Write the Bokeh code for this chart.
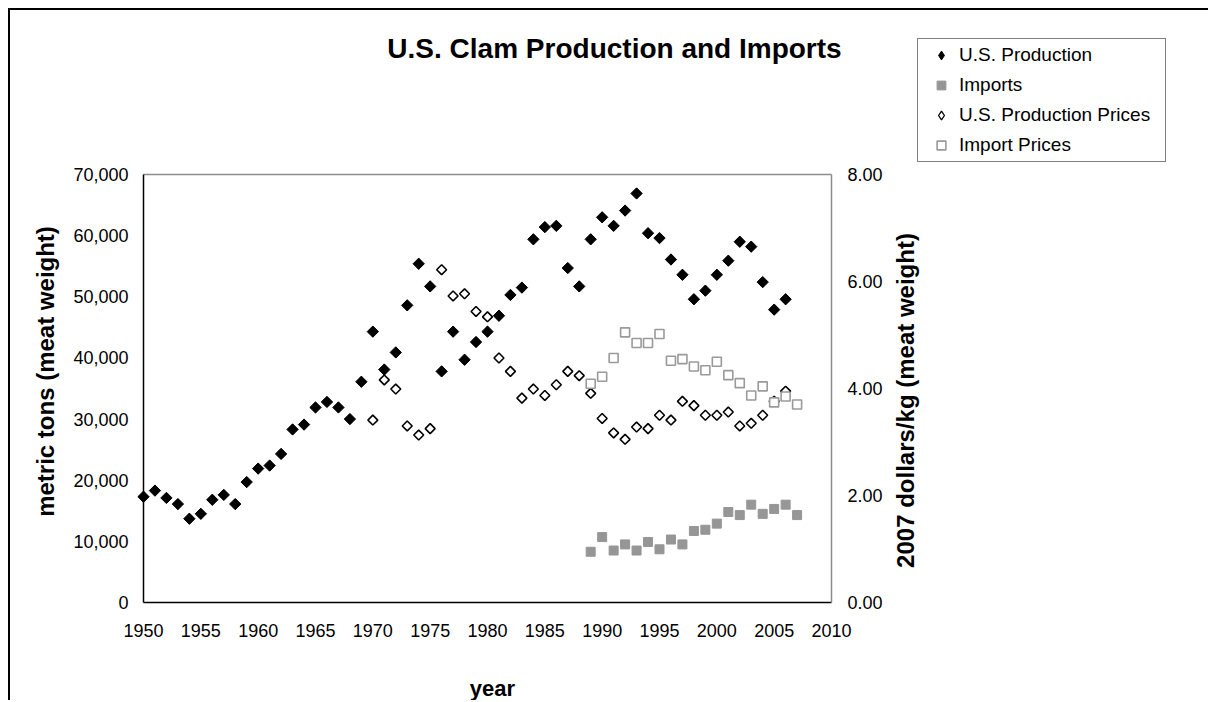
import math
from bokeh.plotting import figure
from bokeh.models import (Range1d, LinearAxis, FixedTicker, NumeralTickFormatter,
                          Label, Legend, LegendItem)
from bokeh.embed import file_html
from bokeh.resources import INLINE

# ---------------- data ----------------
prod_years = list(range(1950, 2007))
us_production = [17300, 18300, 17100, 16100, 13700, 14500, 16800, 17600, 16100, 19700,
                 21900, 22400, 24300, 28300, 29100, 31900, 32800, 31900, 30000, 36100,
                 44300, 38100, 40900, 48600, 55400, 51700, 37800, 44300, 39700, 42600,
                 44300, 46900, 50300, 51500, 59400, 61400, 61600, 54700, 51700, 59400,
                 63000, 61600, 64100, 66900, 60400, 59600, 56100, 53600, 49600, 51000,
                 53600, 55900, 59000, 58200, 52400, 47900, 49600]

import_years = list(range(1989, 2008))
imports = [8300, 10700, 8500, 9500, 8500, 9900, 8700, 10300, 9500, 11700,
           11900, 12900, 14800, 14300, 16000, 14500, 15300, 16000, 14300]

prodprice_years = list(range(1970, 2007))
us_prod_prices = [3.41, 4.16, 3.99, 3.30, 3.13, 3.25, 6.22, 5.73, 5.77, 5.44,
                  5.34, 4.57, 4.32, 3.82, 3.99, 3.87, 4.07, 4.32, 4.24, 3.91,
                  3.44, 3.17, 3.05, 3.28, 3.25, 3.50, 3.41, 3.76, 3.68, 3.50,
                  3.50, 3.56, 3.30, 3.35, 3.50, 3.76, 3.95]

importprice_years = list(range(1989, 2008))
import_prices = [4.09, 4.22, 4.57, 5.05, 4.85, 4.85, 5.02, 4.52, 4.55, 4.41,
                 4.34, 4.50, 4.25, 4.10, 3.87, 4.04, 3.74, 3.85, 3.70]

series_names = ["U.S. Production", "Imports", "U.S. Production Prices", "Import Prices"]

x_ticks = list(range(1950, 2011, 5))
left_ticks = list(range(0, 70001, 10000))
right_ticks = [0, 2, 4, 6, 8]

FONT = "Liberation Sans"

# ---------------- layout geometry (page pixels) ----------------
W, H = 1200, 692           # canvas size
OX, OY = 10, 10            # canvas origin on the page (margin + border)
PX_L, PX_R = 143, 831      # plot area left/right
PY_T, PY_B = 174, 602      # plot area top/bottom
X0, X1 = 1950, 2010
Y0, Y1 = 0, 70000
P0, P1 = 0, 8

def span(v0, v1, a, b, lo, hi):
    k = (v1 - v0) / (b - a)
    return v0 + (lo - a) * k, v0 + (hi - a) * k

xs, xe = span(X0, X1, PX_L, PX_R, OX, OX + W)
ys, ye = span(Y0, Y1, PY_B, PY_T, OY + H, OY)
ps, pe = span(P0, P1, PY_B, PY_T, OY + H, OY)

def sx(px):
    return px - OX

def sy(py):
    return OY + H - py

# ---------------- figure ----------------
p = figure(width=W, height=H,
           x_range=Range1d(xs, xe), y_range=Range1d(ys, ye),
           x_axis_location=None, y_axis_location=None,
           output_backend="svg", toolbar_location=None,
           min_border=0, min_border_left=0, min_border_right=0,
           min_border_top=0, min_border_bottom=0)
p.styles = {"margin-left": "8px", "margin-top": "8px",
            "border-top": "2px solid #000000", "border-left": "2px solid #000000"}
p.xgrid.visible = False
p.ygrid.visible = False
p.outline_line_color = None
p.background_fill_color = "white"
p.border_fill_color = "white"
p.extra_y_ranges = {"price": Range1d(ps, pe)}

bottom = LinearAxis(fixed_location=Y0, bounds=(X0, X1), ticker=FixedTicker(ticks=x_ticks))
left = LinearAxis(fixed_location=X0, bounds=(Y0, Y1), ticker=FixedTicker(ticks=left_ticks),
                  formatter=NumeralTickFormatter(format="0,0"))
right = LinearAxis(y_range_name="price", fixed_location=X1, bounds=(P0, P1),
                   ticker=FixedTicker(ticks=right_ticks),
                   formatter=NumeralTickFormatter(format="0.00"))
top = LinearAxis(fixed_location=Y1, bounds=(X0, X1), ticker=FixedTicker(ticks=[]),
                 major_label_text_alpha=0)
p.add_layout(bottom, "below")
p.add_layout(left, "left")
p.add_layout(right, "right")
p.add_layout(top, "above")

for ax in (bottom, left, right, top):
    ax.major_tick_out = 0
    ax.major_tick_in = 0
    ax.minor_tick_out = 0
    ax.minor_tick_in = 0
    ax.major_label_text_font = FONT
    ax.major_label_text_font_size = "18px"
    ax.major_label_text_color = "black"
    ax.axis_line_color = "black"
    ax.axis_line_width = 1.5

right.axis_line_color = "#8c8c8c"
top.axis_line_color = "#8c8c8c"
bottom.major_label_standoff = 21
left.major_label_standoff = 15
right.major_label_standoff = 16

# ---------------- glyphs ----------------
# legend keys for the diamond series: drawn under the visible rotated squares
# (the legend draws markers unrotated, so a true diamond marker is used there)
k1 = p.scatter(prod_years, us_production, marker="diamond", size=10,
               fill_color="black", line_color="black", line_width=1)
r1 = p.scatter(prod_years, us_production, marker="square", angle=math.pi / 4,
               size=8, fill_color="black", line_color="black", line_width=1)
r2 = p.scatter(import_years, imports, marker="square", size=9,
               fill_color="#969696", line_color="#969696", line_width=1)
k3 = p.scatter(prodprice_years, us_prod_prices, marker="diamond", size=7,
               fill_color="white", line_color="black", line_width=1.3,
               y_range_name="price")
r3 = p.scatter(prodprice_years, us_prod_prices, marker="square", angle=math.pi / 4,
               size=7, fill_color="white", line_color="black", line_width=1.6,
               y_range_name="price")
r4 = p.scatter(importprice_years, import_prices, marker="square", size=9,
               fill_color="white", line_color="#9a9a9a", line_width=1.6,
               y_range_name="price")

legend = Legend(items=[LegendItem(label=series_names[0], renderers=[k1]),
                       LegendItem(label=series_names[1], renderers=[r2]),
                       LegendItem(label=series_names[2], renderers=[k3]),
                       LegendItem(label=series_names[3], renderers=[r4])],
                location=(sx(917), sy(162)), margin=0, padding=5, spacing=8,
                glyph_width=36, glyph_height=22, label_height=22, label_width=201,
                label_standoff=0, label_text_font=FONT, label_text_font_size="19px",
                label_text_color="black", border_line_color="black",
                border_line_width=1.2, background_fill_alpha=1.0)
p.add_layout(legend)

# ---------------- texts ----------------
p.add_layout(Label(x=sx(614), y=sy(48), x_units="screen", y_units="screen",
                   text="U.S. Clam Production and Imports", text_font=FONT,
                   text_font_style="bold", text_font_size="28px",
                   text_align="center", text_baseline="middle", text_color="black"))
p.add_layout(Label(x=sx(45), y=sy(371), x_units="screen", y_units="screen",
                   text="metric tons (meat weight)", text_font=FONT,
                   text_font_style="bold", text_font_size="24px", angle=math.pi / 2,
                   text_align="center", text_baseline="middle", text_color="black"))
p.add_layout(Label(x=sx(905), y=sy(400), x_units="screen", y_units="screen",
                   text="2007 dollars/kg (meat weight)", text_font=FONT,
                   text_font_style="bold", text_font_size="24px", angle=math.pi / 2,
                   text_align="center", text_baseline="middle", text_color="black"))
p.add_layout(Label(x=sx(492), y=sy(688), x_units="screen", y_units="screen",
                   text="year", text_font=FONT,
                   text_font_style="bold", text_font_size="22px",
                   text_align="center", text_baseline="middle", text_color="black"))

open("out.html", "w").write(file_html(p, INLINE))
